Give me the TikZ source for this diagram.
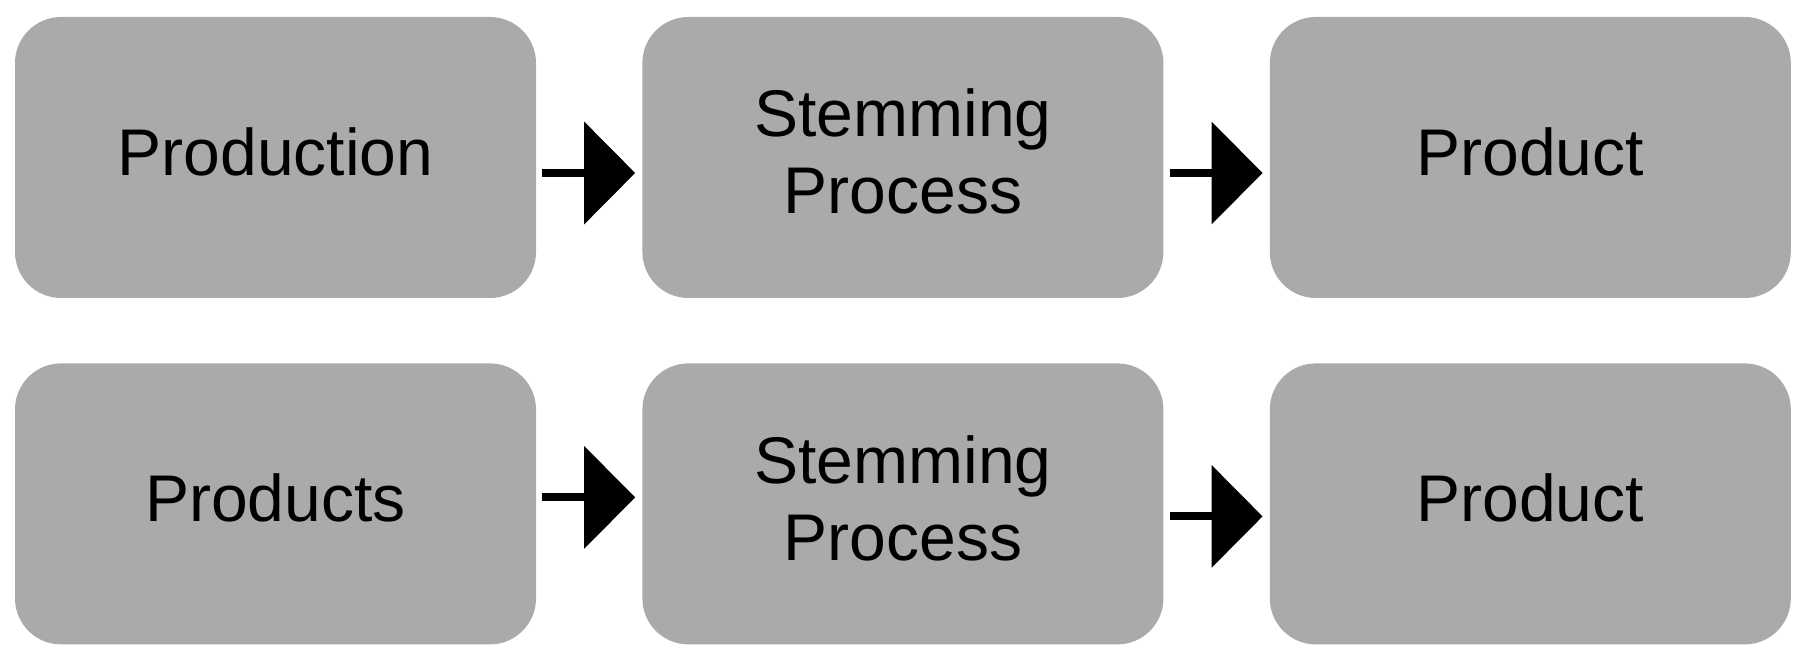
\documentclass[tikz,border=0pt]{standalone}
\usepackage{fontspec}
\setmainfont{Liberation Sans}
\usetikzlibrary{arrows.meta,positioning}
\definecolor{boxGray}{RGB}{170,170,170}
\tikzset{
  stagebox/.style={
    fill=boxGray,
    draw=none,
    rounded corners=46pt,
    minimum width=521pt,
    minimum height=281pt,
    align=center,
    inner sep=0pt,
    text depth=12pt,
    font=\fontsize{66}{77}\selectfont
  },
  flowarrow/.style={
    line width=8pt,
    -{Triangle[length=51pt,width=101pt]},
    shorten <=6pt,
    shorten >=7pt
  }
}

\begin{document}
\begin{tikzpicture}[x=1pt,y=1pt]
  \useasboundingbox (0,0) rectangle (1807,659);
  % top row
  \node[stagebox] (prodA) at (275.5,501.5) {Production};
  \node[stagebox,right=106pt of prodA] (stemA) {Stemming\\Process};
  \node[stagebox,right=106pt of stemA] (outA) {Product};
  % bottom row
  \node[stagebox,below=65pt of prodA] (prodB) {Products};
  \node[stagebox,right=106pt of prodB] (stemB) {Stemming\\Process};
  \node[stagebox,right=106pt of stemB] (outB) {Product};
  % arrows
  \foreach \a/\b/\dy in {prodA/stemA/-15.5,stemA/outA/-15.5,prodB/stemB/6.5,stemB/outB/-12.5}{
    \draw[flowarrow] ([yshift=\dy pt]\a.east) -- ([yshift=\dy pt]\b.west);
  }
\end{tikzpicture}
\end{document}
